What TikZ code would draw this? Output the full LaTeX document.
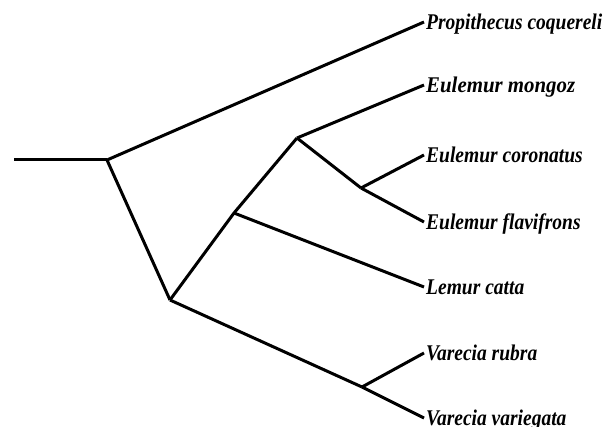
\documentclass[tikz,border=0pt]{standalone}
\usepackage{fontspec}
\setmainfont{Liberation Serif}
\usetikzlibrary{positioning}

% taller, and where needed wider, species names
\newcommand{\spname}[2][1]{\scalebox{#1}[1.15]{#2}}

\tikzset{
  branch/.style={line width=3pt},
  taxon/.style={anchor=west, inner sep=2pt, text height=15pt, text depth=0pt,
    font=\fontsize{19.5}{23}\selectfont\bfseries\itshape}
}

\begin{document}
\begin{tikzpicture}[x=1pt,y=-1pt]
  \useasboundingbox (0,0) rectangle (609,427);
  % inner nodes of the tree
  \coordinate (stem) at (14,160); \coordinate (root) at (107,160);
  \coordinate (lemurids) at (170,300); \coordinate (lemurcl) at (234,213);
  \coordinate (eulemur) at (297,138); \coordinate (eulcf) at (361,188);
  \coordinate (varecia) at (362,387);
  % taxa
  \node[taxon] (pcoq) at (424,22) {\spname{Propithecus coquereli}};
  \node[taxon] (emon) at (424,85) {\spname[1.07]{Eulemur mongoz}};
  \node[taxon] (ecor) at (424,155) {\spname{Eulemur coronatus}};
  \node[taxon] (efla) at (424,222) {\spname{Eulemur flavifrons}};
  \node[taxon] (lcat) at (424,287) {\spname{Lemur catta}};
  \node[taxon] (vrub) at (424,353) {\spname{Varecia rubra}};
  \node[taxon] (vvar) at (424,418) {\spname{Varecia variegata}};
  % branches
  \draw[branch] (stem) -- (root);
  \draw[branch] (root) -- (pcoq.west);
  \draw[branch] (root) -- (lemurids);
  \draw[branch] (lemurids) -- (lemurcl) -- (eulemur);
  \draw[branch] (eulemur) -- (emon.west);
  \draw[branch] (eulemur) -- (eulcf);
  \draw[branch] (eulcf) -- (ecor.west);
  \draw[branch] (eulcf) -- (efla.west);
  \draw[branch] (lemurcl) -- (lcat.west);
  \draw[branch] (lemurids) -- (varecia);
  \draw[branch] (varecia) -- (vrub.west);
  \draw[branch] (varecia) -- (vvar.west);
\end{tikzpicture}
\end{document}
